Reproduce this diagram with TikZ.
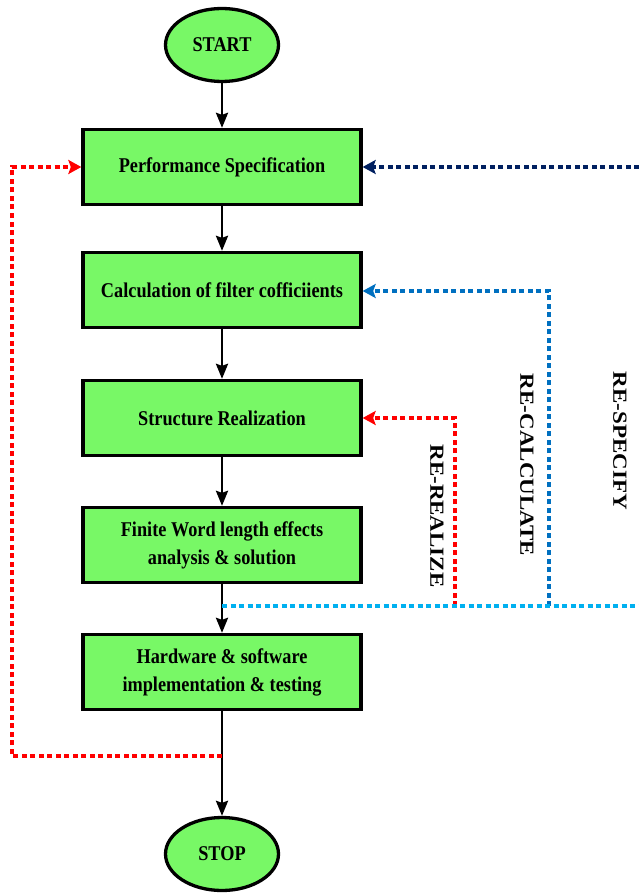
\documentclass[tikz,border=0pt]{standalone}
\usepackage{fontspec}
\setmainfont{Liberation Serif}[FakeStretch=0.87]
\newfontfamily\lblfont{Liberation Serif}
\usetikzlibrary{shapes.geometric,arrows.meta}
\definecolor{boxgreen}{RGB}{120,248,102}
\definecolor{fbnavy}{RGB}{0,32,96}
\definecolor{fbblue}{RGB}{0,112,192}
\definecolor{fbcyan}{RGB}{0,176,240}
\definecolor{fbred}{RGB}{255,0,0}
\begin{document}
\begin{tikzpicture}[x=1pt,y=-1pt,
  box/.style={draw=black,line width=3.3pt,fill=boxgreen,minimum width=278pt,minimum height=75pt,inner sep=0pt,align=center,font=\fontsize{21}{28}\selectfont\bfseries},
  term/.style={ellipse,draw=black,line width=3.3pt,fill=boxgreen,minimum width=113pt,minimum height=73pt,inner sep=0pt,font=\fontsize{21}{28}\selectfont\bfseries},
  flow/.style={line width=2.7pt,-{Stealth[length=15pt,width=12pt,inset=2pt]}},
  fb/.style={line width=3.2pt,dash pattern=on 5pt off 3.5pt},
  fbarrow/.style={fb,-{Stealth[length=13pt,width=14pt,inset=2.5pt]}},
  lbl/.style={rotate=-90,inner sep=0pt,font=\lblfont\fontsize{23}{23}\selectfont\bfseries}
]
\useasboundingbox (0,0) rectangle (639,893);

\node[term] (start) at (222,45) {START};
\node[box] (perf) at (222,167) {Performance Specification};
\node[box] (calc) at (222,290) {Calculation of filter cofficiients};
\node[box] (struct) at (222,418) {Structure Realization};
\node[box] (finite) at (222,545) {Finite Word length effects\\analysis \& solution};
\node[box] (hw) at (222,672) {Hardware \& software\\implementation \& testing};
\node[term] (stop) at (222,854) {STOP};

\draw[flow] (start) -- (perf);
\draw[flow] (perf) -- (calc);
\draw[flow] (calc) -- (struct);
\draw[flow] (struct) -- (finite);
\draw[flow] (finite) -- (hw);
\draw[flow] (hw) -- (stop);

% feedback coordinates
\coordinate (redsrc) at (222,756);
\coordinate (redcorner1) at (12,756);
\coordinate (redcorner2) at (12,167);
\coordinate (navysrc) at (639,167);
\coordinate (cyanstart) at (222,606);
\coordinate (cyanend) at (639,606);
\coordinate (bluebase) at (549,606);
\coordinate (bluecorner) at (549,291);
\coordinate (rrbase) at (455,606);
\coordinate (rrcorner) at (455,418);

\draw[fbarrow,fbred] (redsrc) -- (redcorner1) -- (redcorner2) -- (perf.west);
\draw[fbarrow,fbnavy] (navysrc) -- (perf.east);
\draw[fbarrow,fbblue] (bluebase) -- (bluecorner) -- (calc.east |- bluecorner);
\draw[fbarrow,fbred] (rrbase) -- (rrcorner) -- (struct.east);
\draw[fb,fbcyan] (cyanstart) -- (cyanend);

\node[lbl] (lrealize) at (437,516) {\scalebox{1}[0.87]{RE-REALIZE}};
\node[lbl] (lcalc) at (527,465) {\scalebox{1}[0.87]{RE-CALCULATE}};
\node[lbl] (lspec) at (620,441) {\scalebox{1}[0.87]{RE-SPECIFY}};
\end{tikzpicture}
\end{document}
